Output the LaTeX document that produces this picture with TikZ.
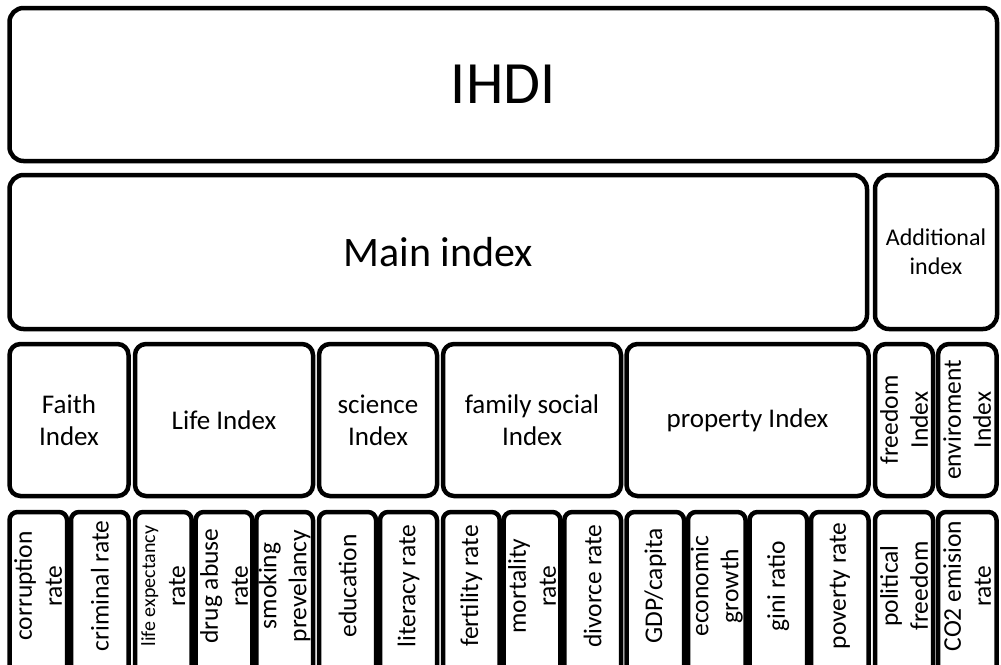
\documentclass[tikz,border=0pt]{standalone}
\usepackage{fontspec}
\setmainfont{Carlito}
\newcommand\leaf[4]{%
  \node[leafbox, minimum width=#3] (#1) at (#2,512) {};
  \node[leaftext] (#1t) at ([yshift=-74pt]#1.north) {#4};}
\begin{document}
\begin{tikzpicture}[x=1pt,y=-1pt,
  boxbase/.style={draw=black, line width=4.5pt, fill=white, inner sep=0pt, outer sep=0pt, anchor=north west, align=center},
  bigbox/.style={boxbase, rounded corners=14pt},
  midbox/.style={boxbase, rounded corners=11pt, minimum height=152pt, font=\fontsize{27}{32}\selectfont},
  midrot/.style={midbox, font=\fontsize{25.5}{30}\selectfont},
  leafbox/.style={boxbase, rounded corners=8pt, minimum height=188pt},
  leaftext/.style={rotate=90, align=center, inner sep=0pt, font=\fontsize{25.5}{30}\selectfont}
]
\useasboundingbox (0,0) rectangle (1001,664);
\clip (0,0) rectangle (1001,664);
\fill[white] (0,0) rectangle (1001,664);

% top rows
\node[bigbox, minimum width=987.5pt, minimum height=153pt, font=\fontsize{60}{70}\selectfont] (ihdi) at (9.5,8) {IHDI};
\node[bigbox, minimum width=857.5pt, minimum height=154pt, font=\fontsize{42}{50}\selectfont] (main) at (9.5,175) {Main index};
\node[bigbox, minimum width=122pt, minimum height=154pt, font=\fontsize{24}{29}\selectfont] (add) at (875,175) {Additional\\index};

% third row
\node[midbox, minimum width=119pt] (faith) at (9.5,344) {Faith\\Index};
\node[midbox, minimum width=178pt] (life) at (135,344) {Life Index};
\node[midbox, minimum width=118pt] (science) at (319,344) {science\\Index};
\node[midbox, minimum width=178pt] (family) at (443,344) {family social\\Index};
\node[midbox, minimum width=242pt] (property) at (626.5,344) {property Index};
\node[midrot, minimum width=58pt] (freedom) at (875,344) {};
\node[leaftext] (freedomt) at (freedom.center) {freedom\\Index};
\node[midrot, minimum width=58.5pt] (env) at (938,344) {};
\node[leaftext] (envt) at (env.center) {enviroment\\Index};

% bottom row
\leaf{corr}{9.5}{57.5pt}{corruption\\rate}
\leaf{crim}{71}{57.5pt}{criminal rate}
\leaf{lifeexp}{135}{56.7pt}{\fontsize{20}{27}\selectfont life expectancy\\rate}
\leaf{drug}{195.7}{56.7pt}{drug abuse\\rate}
\leaf{smok}{256.3}{56.7pt}{smoking\\prevelancy}
\leaf{edu}{319}{57pt}{education}
\leaf{lit}{380}{57pt}{literacy rate}
\leaf{fert}{443}{56.7pt}{fertility rate}
\leaf{mort}{503.7}{56.7pt}{mortality\\rate}
\leaf{div}{564.3}{56.7pt}{divorce rate}
\leaf{gdp}{626.5}{57.5pt}{GDP/capita}
\leaf{econ}{688}{57.5pt}{economic\\growth}
\leaf{gini}{749.5}{57.5pt}{gini ratio}
\leaf{pov}{811}{57.5pt}{poverty rate}
\leaf{pol}{875}{58pt}{political\\freedom}
\leaf{co2}{938}{58.5pt}{CO2 emision\\rate}
\end{tikzpicture}
\end{document}
